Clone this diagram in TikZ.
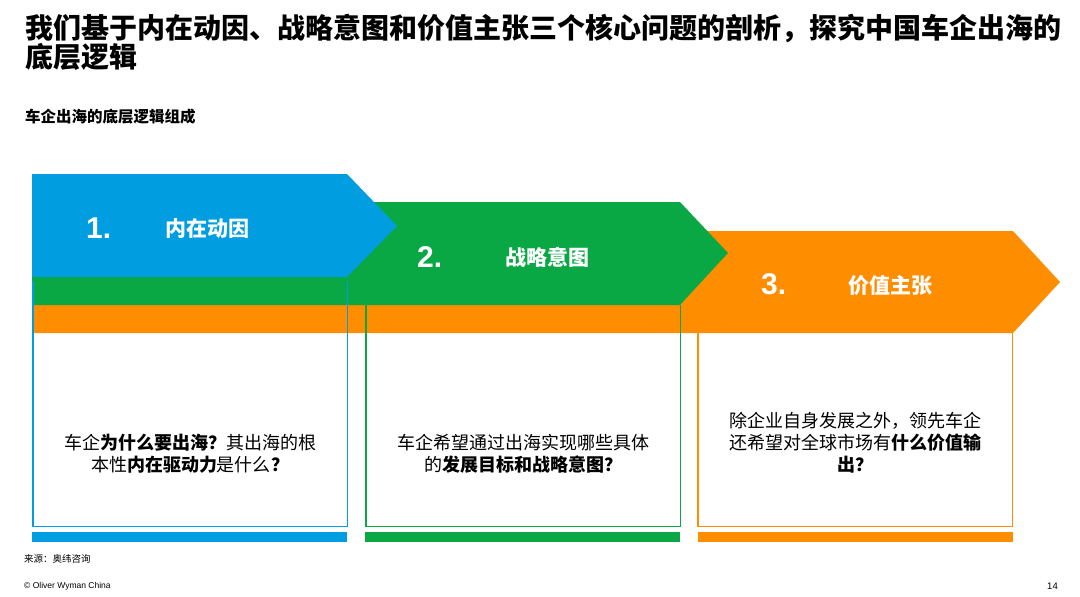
\documentclass[tikz,border=0pt]{standalone}
\usepackage{fontspec}
\setmainfont{Liberation Sans}
\newfontfamily\cjk{Noto Sans CJK SC}
\definecolor{owblue}{RGB}{0,158,224}
\definecolor{owgreen}{RGB}{9,168,69}
\definecolor{oworange}{RGB}{255,141,0}
\tikzset{
  titlestyle/.style={anchor=base west, inner sep=0pt, font=\fontsize{28}{29}\selectfont\cjk\bfseries},
  numlabel/.style={anchor=base west, inner sep=0pt, text=white, font=\fontsize{30}{30}\selectfont\bfseries},
  steplabel/.style={anchor=base west, inner sep=0pt, text=white, font=\fontsize{21}{21}\selectfont\cjk\bfseries},
  boxframe/.style={anchor=north west, inner sep=0pt, minimum width=314pt, minimum height=245pt},
  boxtext/.style={align=center, inner sep=0pt, text=black, font=\fontsize{18}{22}\selectfont\cjk},
  barstyle/.style={anchor=north west, inner sep=0pt, minimum width=315pt, minimum height=10pt},
}
\begin{document}
\begin{tikzpicture}[x=1pt,y=-1pt]
\useasboundingbox[fill=white] (0,0) rectangle (1080,597);

% title
\node[titlestyle] (title1) at (25,38) {我们基于内在动因、战略意图和价值主张三个核心问题的剖析，探究中国车企出海的};
\node[titlestyle] (title2) at (25,67) {底层逻辑};
\node[anchor=base west, inner sep=0pt, font=\fontsize{15.5}{16}\selectfont\cjk\bfseries] (sub) at (25,122) {车企出海的底层逻辑组成};

% chevrons
\fill[oworange] (32,231) -- (1013,231) -- (1060,282) -- (1013,333) -- (32,333) -- cycle;
\fill[owgreen] (32,202) -- (680,202) -- (728,253) -- (680,305) -- (32,305) -- cycle;
\fill[owblue] (32,174) -- (347,174) -- (397,226) -- (347,277) -- (32,277) -- cycle;

% box frames
\node[boxframe, minimum height=245pt] (b1) at (33,281) {};
\node[boxframe, minimum height=221pt] (b2) at (366,305) {};
\node[boxframe, minimum height=193pt] (b3) at (698,333) {};
\draw[owblue, line width=1.5pt] (b1.north west) -- (b1.south west) -- (b1.south east) -- (b1.north east);
\draw[owgreen, line width=1.5pt] (b2.north west) -- (b2.south west) -- (b2.south east) -- (b2.north east);
\draw[oworange, line width=1.5pt] (b3.north west) -- (b3.south west) -- (b3.south east) -- (b3.north east);

% labels
\node[numlabel] (n1) at (86,238) {1.};
\node[steplabel] (s1) at (165,236) {内在动因};
\node[numlabel] (n2) at (417,267) {2.};
\node[steplabel] (s2) at (505,265) {战略意图};
\node[numlabel] (n3) at (761,294) {3.};
\node[steplabel] (s3) at (848,293) {价值主张};

% box texts
\node[boxtext] (t1) at (190,454) {车企\textbf{为什么要出海？}其出海的根\\本性\textbf{内在驱动力}是什么\textbf{？}};
\node[boxtext] (t2) at (523,454) {车企希望通过出海实现哪些具体\\的\textbf{发展目标和战略意图？}};
\node[boxtext] (t3) at (855,443) {除企业自身发展之外，领先车企\\还希望对全球市场有\textbf{什么价值输}\\\textbf{出？}};

% bottom bars
\node[barstyle, fill=owblue] (bar1) at (32,532) {};
\node[barstyle, fill=owgreen] (bar2) at (365,532) {};
\node[barstyle, fill=oworange] (bar3) at (698,532) {};

% footer
\node[anchor=west, inner sep=0pt, font=\fontsize{9.5}{10}\selectfont\cjk] (src) at (24,559) {来源：奥纬咨询};
\node[anchor=west, inner sep=0pt, font=\fontsize{8.5}{9}\selectfont] (copy) at (24,586) {© Oliver Wyman China};
\node[anchor=east, inner sep=0pt, font=\fontsize{9.5}{10}\selectfont] (page) at (1058,586) {14};
\end{tikzpicture}
\end{document}
